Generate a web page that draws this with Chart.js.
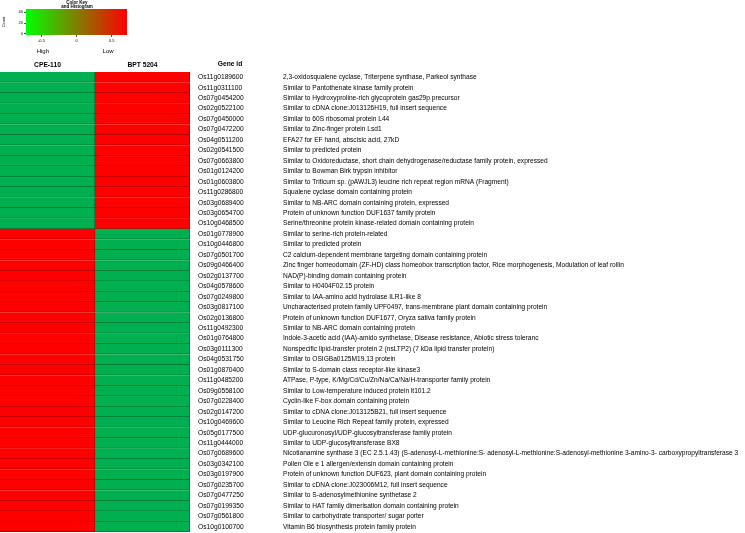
<!DOCTYPE html>
<html>
<head>
<meta charset="utf-8">
<script src="https://cdn.jsdelivr.net/npm/chart.js@4.4.1/dist/chart.umd.min.js"></script>
<style>
  body { margin: 0; background: #fff; }
  #wrap { position: relative; width: 745px; height: 533px; }
  #heatmap, #colorKey { position: absolute; left: 0; top: 0; }
</style>
</head>
<body>
<div id="wrap">
  <canvas id="heatmap" width="745" height="533"></canvas>
  <canvas id="colorKey" width="135" height="56"></canvas>
</div>
<script>
const samples = ['CPE-110', 'BPT 5204'];

const geneIds = [
  'Os11g0189600', 'Os11g0311100', 'Os07g0454200', 'Os02g0522100', 'Os07g0450000',
  'Os07g0472200', 'Os04g0511200', 'Os02g0541500', 'Os07g0663800', 'Os01g0124200',
  'Os01g0603800', 'Os11g0286800', 'Os03g0689400', 'Os03g0654700', 'Os10g0468500',
  'Os01g0778900', 'Os10g0446800', 'Os07g0501700', 'Os09g0466400', 'Os02g0137700',
  'Os04g0578600', 'Os07g0249800', 'Os03g0817100', 'Os02g0136800', 'Os11g0492300',
  'Os01g0764800', 'Os03g0111300', 'Os04g0531750', 'Os01g0870400', 'Os11g0485200',
  'Os09g0558100', 'Os07g0228400', 'Os02g0147200', 'Os10g0469600', 'Os05g0177500',
  'Os11g0444000', 'Os07g0689600', 'Os03g0342100', 'Os03g0197900', 'Os07g0235700',
  'Os07g0477250', 'Os07g0199350', 'Os07g0561800', 'Os10g0100700'
];

const descriptions = [
  '2,3-oxidosqualene cyclase, Triterpene synthase, Parkeol synthase',
  'Similar to Pantothenate kinase family protein',
  'Similar to Hydroxyproline-rich glycoprotein gas29p precursor',
  'Similar to cDNA clone:J013126H19, full insert sequence',
  'Similar to 60S ribosomal protein L44',
  'Similar to Zinc-finger protein Lsd1',
  'EFA27 for EF hand, abscisic acid, 27kD',
  'Similar to predicted protein',
  'Similar to Oxidoreductase, short chain dehydrogenase/reductase family protein, expressed',
  'Similar to Bowman Birk trypsin inhibitor',
  'Similar to Triticum sp. (pAWJL3) leucine rich repeat region mRNA (Fragment)',
  'Squalene cyclase domain containing protein',
  'Similar to NB-ARC domain containing protein, expressed',
  'Protein of unknown function DUF1637 family protein',
  'Serine/threonine protein kinase-related domain containing protein',
  'Similar to serine-rich protein-related',
  'Similar to predicted protein',
  'C2 calcium-dependent membrane targeting domain containing protein',
  'Zinc finger homeodomain (ZF-HD) class homeobox transcription factor, Rice morphogenesis, Modulation of leaf rollin',
  'NAD(P)-binding domain containing protein',
  'Similar to H0404F02.15 protein',
  'Similar to IAA-amino acid hydrolase ILR1-like 8',
  'Uncharacterised protein family UPF0497, trans-membrane plant domain containing protein',
  'Protein of unknown function DUF1677, Oryza sativa family protein',
  'Similar to NB-ARC domain containing protein',
  'Indole-3-acetic acid (IAA)-amido synthetase, Disease resistance, Abiotic stress toleranc',
  'Nonspecific lipid-transfer protein 2 (nsLTP2) (7 kDa lipid transfer protein)',
  'Similar to OSIGBa0125M19.13 protein',
  'Similar to S-domain class receptor-like kinase3',
  'ATPase, P-type, K/Mg/Cd/Cu/Zn/Na/Ca/Na/H-transporter family protein',
  'Similar to Low-temperature induced protein lt101.2',
  'Cyclin-like F-box domain containing protein',
  'Similar to cDNA clone:J013125B21, full insert sequence',
  'Similar to Leucine Rich Repeat family protein, expressed',
  'UDP-glucuronosyl/UDP-glucosyltransferase family protein',
  'Similar to UDP-glucosyltransferase BX8',
  'Nicotianamine synthase 3 (EC 2.5.1.43) (S-adenosyl-L-methionine:S- adenosyl-L-methionine:S-adenosyl-methionine 3-amino-3- carboxypropyltransferase 3',
  'Pollen Ole e 1 allergen/extensin domain containing protein',
  'Protein of unknown function DUF623, plant domain containing protein',
  'Similar to cDNA clone:J023006M12, full insert sequence',
  'Similar to S-adenosylmethionine synthetase 2',
  'Similar to HAT family dimerisation domain containing protein',
  'Similar to carbohydrate transporter/ sugar porter',
  'Vitamin B6 biosynthesis protein family protein'
];

// expression values (green = high, red = low)
const cpe110 = [
  -0.7, -0.7, -0.7, -0.7, -0.7, -0.7, -0.7, -0.7, -0.7, -0.7,
  -0.7, -0.7, -0.7, -0.7, -0.7,
  0.7, 0.7, 0.7, 0.7, 0.7, 0.7, 0.7, 0.7, 0.7, 0.7,
  0.7, 0.7, 0.7, 0.7, 0.7, 0.7, 0.7, 0.7, 0.7, 0.7,
  0.7, 0.7, 0.7, 0.7, 0.7, 0.7, 0.7, 0.7, 0.7
];
const bpt5204 = [
  0.7, 0.7, 0.7, 0.7, 0.7, 0.7, 0.7, 0.7, 0.7, 0.7,
  0.7, 0.7, 0.7, 0.7, 0.7,
  -0.7, -0.7, -0.7, -0.7, -0.7, -0.7, -0.7, -0.7, -0.7, -0.7,
  -0.7, -0.7, -0.7, -0.7, -0.7, -0.7, -0.7, -0.7, -0.7, -0.7,
  -0.7, -0.7, -0.7, -0.7, -0.7, -0.7, -0.7, -0.7, -0.7
];

const keyTicks = [-0.5, 0, 0.5];
const countTicks = [0, 20, 40];

Chart.defaults.font.family = "'Liberation Sans', Arial, sans-serif";
Chart.defaults.color = '#000';

// green #00b050 at the low end, red #ff0000 at the high end
function cellColor(v, dark) {
  let t = (v + 0.7) / 1.4;
  t = Math.max(0, Math.min(1, t));
  let r = Math.round(0 + 255 * t);
  let g = Math.round(176 - 176 * t);
  let b = Math.round(80 - 80 * t);
  if (dark) {
    r = Math.round(r * 0.7); g = Math.round(g * 0.65); b = Math.round(b * 0.65);
  }
  return 'rgb(' + r + ',' + g + ',' + b + ')';
}

function sampleDataset(name, vals) {
  return {
    label: name,
    data: vals.map(() => 1),
    backgroundColor: vals.map(v => cellColor(v)),
    borderColor: vals.map(v => cellColor(v, true)),
    borderWidth: { top: 0, left: 0, bottom: 1, right: 1 },
    borderSkipped: false,
    barPercentage: 1,
    categoryPercentage: 1
  };
}

// no extra room for half labels at the ends of the row axes
function fixWidth(w) {
  return s => {
    s.width = w;
    s.paddingTop = 0;
    s.paddingBottom = 0;
  };
}

const headerPlugin = {
  id: 'geneHeader',
  afterDraw(chart) {
    const ctx = chart.ctx;
    ctx.save();
    ctx.font = "bold 6.7px 'Liberation Sans', Arial, sans-serif";
    ctx.fillStyle = '#000';
    ctx.textAlign = 'center';
    ctx.textBaseline = 'middle';
    ctx.fillText('Gene id', 230, 64);
    ctx.restore();
  }
};

new Chart(document.getElementById('heatmap'), {
  type: 'bar',
  data: {
    labels: geneIds,
    datasets: [sampleDataset(samples[0], cpe110), sampleDataset(samples[1], bpt5204)]
  },
  options: {
    indexAxis: 'y',
    responsive: false,
    animation: false,
    layout: { padding: { top: 58, right: 0, left: 0, bottom: 1 } },
    plugins: { legend: { display: false }, tooltip: { enabled: false } },
    scales: {
      x: {
        type: 'linear',
        position: 'top',
        min: 0,
        max: 2,
        stacked: true,
        grid: { display: false, drawTicks: false },
        border: { display: false },
        afterBuildTicks: s => { s.ticks = [{ value: 0.5 }, { value: 1.5 }]; },
        afterFit: s => { s.height = 14; s.paddingLeft = 0; s.paddingRight = 0; },
        ticks: {
          autoSkip: false,
          maxRotation: 0,
          padding: 3,
          font: { size: 6.7, weight: 'bold' },
          callback: (v, i) => samples[i]
        }
      },
      y: {
        type: 'category',
        position: 'right',
        stacked: true,
        offset: true,
        weight: 0,
        grid: { display: false, drawTicks: false },
        border: { display: false },
        afterFit: fixWidth(93),
        ticks: { autoSkip: false, padding: 8, font: { size: 6.7 } }
      },
      y2: {
        type: 'category',
        labels: descriptions,
        position: 'right',
        offset: true,
        weight: 1,
        grid: { display: false, drawTicks: false },
        border: { display: false },
        afterFit: fixWidth(462),
        ticks: { autoSkip: false, padding: 0, font: { size: 6.6 } }
      }
    }
  },
  plugins: [headerPlugin]
});

// colour key
const keyPlugin = {
  id: 'keyGradient',
  beforeDatasetsDraw(chart) {
    const { ctx, chartArea: a } = chart;
    const grad = ctx.createLinearGradient(a.left, 0, a.right, 0);
    grad.addColorStop(0, '#00ff00');
    grad.addColorStop(1, '#ff0000');
    ctx.save();
    ctx.fillStyle = grad;
    ctx.fillRect(a.left, a.top, a.right - a.left, a.bottom - a.top);
    ctx.restore();
  },
  afterDraw(chart) {
    const ctx = chart.ctx;
    const x = chart.scales.x;
    ctx.save();
    ctx.fillStyle = '#000';
    ctx.textAlign = 'center';
    ctx.textBaseline = 'middle';
    ctx.font = "bold 4.5px 'Liberation Sans', Arial, sans-serif";
    ctx.fillText('Color Key', 77, 2.5);
    ctx.fillText('and Histogram', 77, 7);
    ctx.font = "6px 'Liberation Sans', Arial, sans-serif";
    ctx.fillText('High', x.getPixelForValue(-0.48), 51);
    ctx.fillText('Low', x.getPixelForValue(0.45), 51);
    ctx.restore();
  }
};

new Chart(document.getElementById('colorKey'), {
  type: 'scatter',
  data: { datasets: [] },
  options: {
    responsive: false,
    animation: false,
    layout: { padding: { top: 9, right: 8, left: 0, bottom: 11 } },
    plugins: { legend: { display: false }, tooltip: { enabled: false } },
    scales: {
      x: {
        type: 'linear',
        min: -0.72,
        max: 0.72,
        grid: { drawOnChartArea: false, tickLength: 2, color: '#555' },
        border: { display: false },
        afterBuildTicks: s => { s.ticks = keyTicks.map(v => ({ value: v })); },
        afterFit: s => { s.height = 10; },
        ticks: { padding: 1, maxRotation: 0, font: { size: 4 } }
      },
      y: {
        type: 'linear',
        min: -2,
        max: 46,
        grid: { drawOnChartArea: false, tickLength: 2, color: '#555' },
        border: { display: false },
        afterBuildTicks: s => { s.ticks = countTicks.map(v => ({ value: v })); },
        afterFit: s => { s.width = 26; },
        title: { display: true, text: 'Count', font: { size: 4 }, padding: 1 },
        ticks: { padding: 1, font: { size: 4 } }
      }
    }
  },
  plugins: [keyPlugin]
});
</script>
</body>
</html>
